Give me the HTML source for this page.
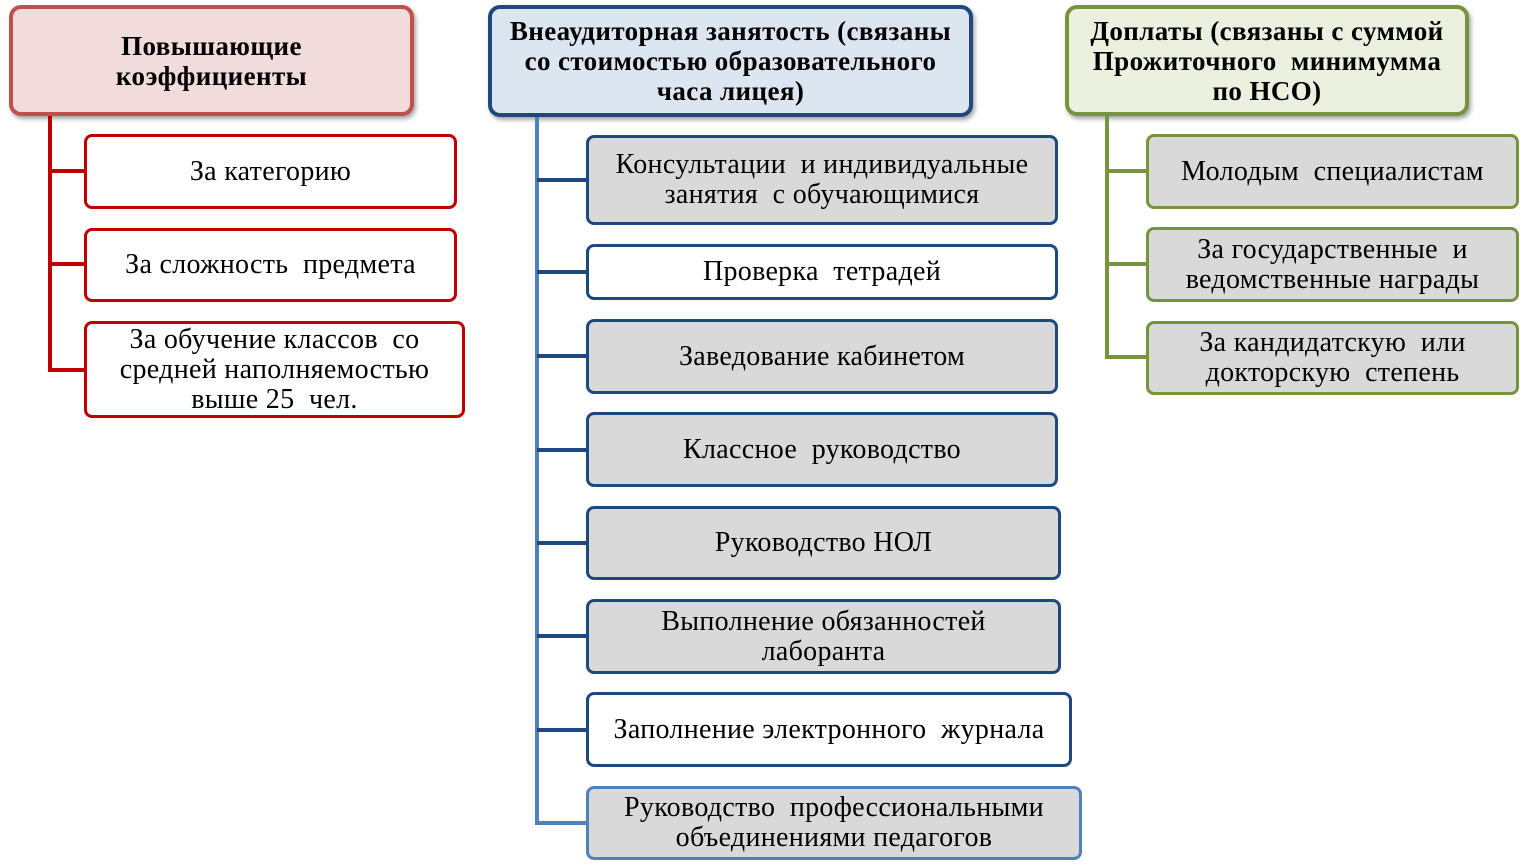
<!DOCTYPE html>
<html><head><meta charset="utf-8"><style>
body{margin:0;width:1524px;height:864px;background:#fff;position:relative;overflow:hidden;font-family:"Liberation Serif",serif;}
.b{position:absolute;box-sizing:border-box;display:flex;align-items:center;justify-content:center;text-align:center;font-size:28px;letter-spacing:0.3px;line-height:30px;color:#000;border-radius:8px;white-space:nowrap;}
.h{font-weight:bold;font-size:27px;letter-spacing:0.4px;border-width:4px;border-style:solid;border-radius:12px;box-shadow:2px 3px 4px rgba(0,0,0,.35);}
.l{position:absolute;}
</style></head><body>
<!-- red -->
<div class="b h" style="left:9px;top:5px;width:405px;height:111px;background:#f2dcdb;border-color:#c0504d;">Повышающие<br>коэффициенты</div>
<div class="l" style="left:48px;top:116px;width:4px;height:256px;background:#c00000"></div>
<div class="l" style="left:48px;top:169px;width:36px;height:4px;background:#c00000"></div>
<div class="l" style="left:48px;top:262px;width:36px;height:4px;background:#c00000"></div>
<div class="l" style="left:48px;top:368px;width:36px;height:4px;background:#c00000"></div>
<div class="b" style="left:84px;top:134px;width:373px;height:75px;border:3px solid #c00000;background:#fff">За категорию</div>
<div class="b" style="left:84px;top:228px;width:373px;height:74px;border:3px solid #c00000;background:#fff">За сложность&nbsp; предмета</div>
<div class="b" style="left:84px;top:321px;width:381px;height:97px;border:3px solid #c00000;background:#fff">За обучение классов&nbsp; со<br>средней наполняемостью<br>выше 25&nbsp; чел.</div>
<!-- blue -->
<div class="b h" style="left:488px;top:5px;width:485px;height:112px;background:#dce6f1;border-color:#1f497d;">Внеаудиторная занятость (связаны<br>со стоимостью образовательного<br>часа лицея)</div>
<div class="l" style="left:535px;top:117px;width:4px;height:708px;background:#4f81bd"></div>
<div class="l" style="left:537px;top:178px;width:49px;height:4px;background:#1f497d"></div>
<div class="l" style="left:537px;top:270px;width:49px;height:4px;background:#1f497d"></div>
<div class="l" style="left:537px;top:354px;width:49px;height:4px;background:#1f497d"></div>
<div class="l" style="left:537px;top:448px;width:49px;height:4px;background:#1f497d"></div>
<div class="l" style="left:537px;top:541px;width:49px;height:4px;background:#1f497d"></div>
<div class="l" style="left:537px;top:634px;width:49px;height:4px;background:#1f497d"></div>
<div class="l" style="left:537px;top:728px;width:49px;height:4px;background:#1f497d"></div>
<div class="l" style="left:537px;top:821px;width:49px;height:4px;background:#4f81bd"></div>
<div class="b" style="left:586px;top:135px;width:472px;height:90px;border:3px solid #1f497d;background:#d9d9d9">Консультации&nbsp; и индивидуальные<br>занятия&nbsp; с обучающимися</div>
<div class="b" style="left:586px;top:244px;width:472px;height:56px;border:3px solid #1f497d;background:#fff">Проверка&nbsp; тетрадей</div>
<div class="b" style="left:586px;top:319px;width:472px;height:75px;border:3px solid #1f497d;background:#d9d9d9">Заведование кабинетом</div>
<div class="b" style="left:586px;top:412px;width:472px;height:75px;border:3px solid #1f497d;background:#d9d9d9">Классное&nbsp; руководство</div>
<div class="b" style="left:586px;top:506px;width:475px;height:74px;border:3px solid #1f497d;background:#d9d9d9">Руководство НОЛ</div>
<div class="b" style="left:586px;top:599px;width:475px;height:75px;border:3px solid #1f497d;background:#d9d9d9">Выполнение обязанностей<br>лаборанта</div>
<div class="b" style="left:586px;top:692px;width:486px;height:75px;border:3px solid #1f497d;background:#fff">Заполнение электронного&nbsp; журнала</div>
<div class="b" style="left:586px;top:786px;width:496px;height:74px;border:3px solid #4f81bd;background:#d9d9d9">Руководство&nbsp; профессиональными<br>объединениями педагогов</div>
<!-- green -->
<div class="b h" style="left:1065px;top:5px;width:404px;height:111px;background:#ebf1de;border-color:#77933c;">Доплаты (связаны с суммой<br>Прожиточного&nbsp; минимумма<br>по НСО)</div>
<div class="l" style="left:1105px;top:116px;width:4px;height:243px;background:#77933c"></div>
<div class="l" style="left:1105px;top:169px;width:41px;height:4px;background:#77933c"></div>
<div class="l" style="left:1105px;top:262px;width:41px;height:4px;background:#77933c"></div>
<div class="l" style="left:1105px;top:355px;width:41px;height:4px;background:#77933c"></div>
<div class="b" style="left:1146px;top:134px;width:373px;height:75px;border:3px solid #77933c;background:#d9d9d9">Молодым&nbsp; специалистам</div>
<div class="b" style="left:1146px;top:227px;width:373px;height:75px;border:3px solid #77933c;background:#d9d9d9">За государственные&nbsp; и<br>ведомственные награды</div>
<div class="b" style="left:1146px;top:321px;width:373px;height:74px;border:3px solid #77933c;background:#d9d9d9">За кандидатскую&nbsp; или<br>докторскую&nbsp; степень</div>
</body></html>
